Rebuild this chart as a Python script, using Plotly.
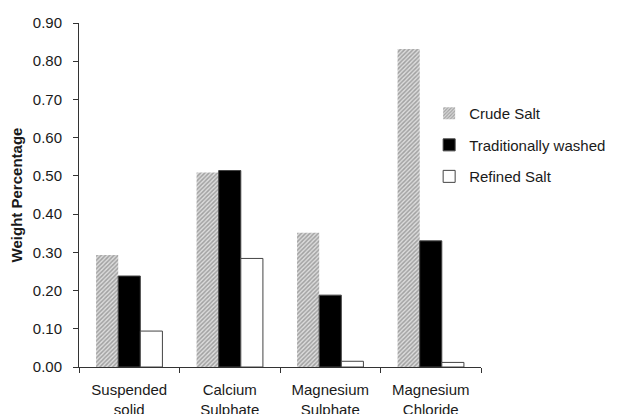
import plotly.graph_objects as go

categories = ["Suspended<br>solid", "Calcium<br>Sulphate", "Magnesium<br>Sulphate", "Magnesium<br>Chloride"]
crude_salt = [0.293, 0.509, 0.351, 0.832]
traditionally_washed = [0.238, 0.514, 0.188, 0.330]
refined_salt = [0.094, 0.284, 0.015, 0.012]
y_ticks = [0.0, 0.1, 0.2, 0.3, 0.4, 0.5, 0.6, 0.7, 0.8, 0.9]

FONT = "Liberation Sans"

fig = go.Figure()
fig.add_trace(go.Bar(
    x=categories, y=crude_salt, name="Crude Salt", legendgroup="a",
    marker=dict(color="white", line=dict(width=0),
                pattern=dict(shape="/", fgcolor="#666666", bgcolor="#dcdcdc", size=3, solidity=0.5)),
))
fig.add_trace(go.Bar(
    x=categories, y=traditionally_washed, name="Traditionally washed", legendgroup="b",
    marker=dict(color="black", line=dict(color="#444", width=1)),
))
fig.add_trace(go.Bar(
    x=categories, y=refined_salt, name="Refined Salt", legendgroup="c",
    marker=dict(color="white", line=dict(color="#444", width=1)),
))

fig.update_layout(
    width=617, height=414,
    margin=dict(l=71, r=144, t=15, b=55, autoexpand=False),
    paper_bgcolor="white", plot_bgcolor="white",
    barmode="group", bargap=0.34, bargroupgap=0,
    font=dict(family=FONT, size=15, color="#1a1a1a"),
    legend=dict(x=0.871, y=0.645, xanchor="left", yanchor="middle",
                font=dict(family=FONT, size=15, color="#1a1a1a"),
                itemwidth=30, tracegroupgap=9, bgcolor="rgba(0,0,0,0)"),
    xaxis=dict(showline=True, linecolor="#333", linewidth=1, automargin=False,
               ticks="outside", tickson="boundaries", ticklen=5, tickcolor="#333",
               ticklabelstandoff=9,
               showgrid=False, tickfont=dict(family=FONT, size=15, color="#1a1a1a")),
    yaxis=dict(range=[0, 0.9], tickvals=y_ticks, tickformat=".2f", automargin=False,
               showline=True, linecolor="#333", linewidth=1,
               ticks="outside", ticklen=5, tickcolor="#333",
               ticklabelstandoff=8,
               showgrid=False, zeroline=False,
               tickfont=dict(family=FONT, size=15, color="#1a1a1a"),
               title=dict(text="<b>Weight Percentage</b>", font=dict(family=FONT, size=15, color="#1a1a1a"), standoff=7)),
)

fig.write_html("out.html")
